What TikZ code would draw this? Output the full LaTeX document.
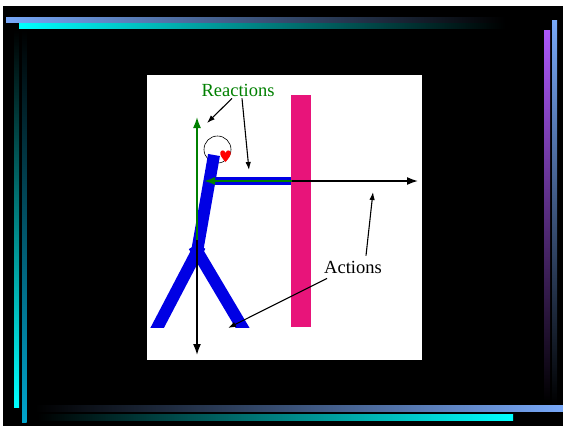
\documentclass[tikz,border=0pt]{standalone}
\usepackage{fontspec}
\setmainfont{Liberation Serif}
\usetikzlibrary{arrows.meta}

\definecolor{barblue}{RGB}{120,168,248}
\definecolor{barcyan}{RGB}{0,255,255}
\definecolor{barteal}{RGB}{0,165,205}
\definecolor{barpurple}{RGB}{172,88,250}
\definecolor{wallpink}{RGB}{232,20,122}
\definecolor{manblue}{RGB}{0,0,228}
\definecolor{forcegreen}{RGB}{0,128,0}

\tikzset{
  force/.style={line width=1.6pt, -{Latex[length=11pt,width=8pt]}},
  pointer/.style={line width=1.1pt, -{Latex[length=8pt,width=5.5pt]}},
  limb/.style={manblue, line width=12pt},
  lbl/.style={font=\fontsize{18.5}{20}\selectfont, inner sep=0pt}
}

\begin{document}
\begin{tikzpicture}[x=1pt,y=-1pt]
    \useasboundingbox (0,0) rectangle (563,426);
    \fill [black] (3,6) rectangle (563,426);
    % frame bars
    \shade [left color=barblue, right color=black] (6,17) rectangle (505,22);
    \shade [left color=barcyan, right color=black] (19,23) rectangle (505,28);
    \shade [top color=black, bottom color=barcyan] (14,30) rectangle (19,407);
    \shade [top color=black, bottom color=barteal] (22,30) rectangle (26.5,422);
    \shade [top color=barblue, bottom color=black] (552,20) rectangle (557,404);
    \shade [top color=barpurple, bottom color=black] (544,30) rectangle (550,402);
    \shade [left color=black, right color=barblue] (35,405) rectangle (563,411);
    \shade [left color=black, right color=barcyan] (38,414) rectangle (513,420);
    % panel and wall
    \fill [white] (147,75) rectangle (422,360);
    \fill [wallpink] (291,95) rectangle (311,327);
    % the man
    \draw [line width=0.6pt] (217.5,149.5) circle [radius=13.5];
    \draw [limb] (214,155) -- (197,252);
    \begin{scope}
        \clip (140,240) rectangle (260,327);
        \draw [limb] (200,246) -- (155,332);
        \draw [limb] (194,246) -- (245,332);
    \end{scope}
    \fill [manblue] (207,177) rectangle (291,185);
    \fill [red] (225.5,162) .. controls (222,158) and (219.5,155) .. (220.5,152)
        .. controls (221.5,149.5) and (224.5,150) .. (225.5,153)
        .. controls (226.5,150) and (229.5,149.5) .. (230.5,152)
        .. controls (231.5,155) and (229,158) .. (225.5,162) -- cycle;
    % forces
    \coordinate (hip) at (197,240);
    \coordinate (head) at (197,117);
    \coordinate (foot) at (197,355);
    \coordinate (hand) at (204,181);
    \coordinate (wall) at (292,181);
    \coordinate (far) at (418,181);
    \draw [force, forcegreen] (hip) -- (head);
    \draw [force, forcegreen] (wall) -- (hand);
    \draw [force] (hip) -- (foot);
    \draw [force] (wall) -- (far);
    % labels
    \node [lbl, text=forcegreen] (reac) at (238,90) {Reactions};
    \node [lbl] (act) at (353,267) {Actions};
    \coordinate (reacup) at (207,123);
    \coordinate (reacarm) at (249,170);
    \coordinate (actpush) at (373,192);
    \coordinate (actfoot) at (228,328);
    \draw [pointer] ([shift={(-6pt,-2pt)}]reac.south) -- (reacup);
    \draw [pointer] ([shift={(4pt,-2pt)}]reac.south) -- (reacarm);
    \draw [pointer] ([shift={(13pt,5pt)}]act.north) -- (actpush);
    \draw [pointer] ([shift={(3pt,-5pt)}]act.south west) -- (actfoot);
\end{tikzpicture}
\end{document}
